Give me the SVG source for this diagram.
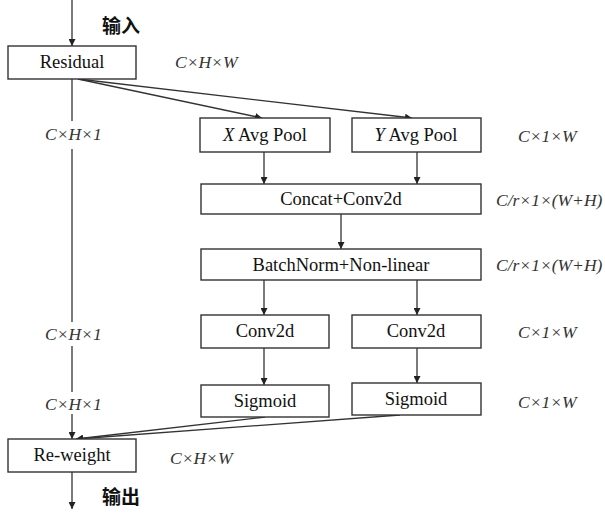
<svg xmlns="http://www.w3.org/2000/svg" width="605" height="513" viewBox="0 0 605 513">
<defs>
<marker id="ah" viewBox="0 0 10 10" refX="10" refY="5" markerWidth="7" markerHeight="7" markerUnits="userSpaceOnUse" orient="auto">
<path d="M0,0 L10,5 L0,10 z" fill="#222"/>
</marker>
<style>
.box{fill:#fff;stroke:#333;stroke-width:1.4}
.t{font-family:'Liberation Serif','Times New Roman',serif;font-size:18.5px;fill:#111;text-anchor:middle}
.d{font-family:'Liberation Serif','Times New Roman',serif;font-size:17.5px;font-style:italic;fill:#333}
.zh{font-family:'Noto Sans CJK SC',sans-serif;font-size:19px;font-weight:bold;fill:#111}
.c{stroke:#333;stroke-width:1.3;fill:none}
</style>
</defs>
<rect width="605" height="513" fill="#fff"/>
<g id="connectors">
<line class="c" x1="72" y1="0" x2="72" y2="46" marker-end="url(#ah)"/>
<line class="c" x1="72" y1="79" x2="72" y2="121"/>
<line class="c" x1="72" y1="149" x2="72" y2="322"/>
<line class="c" x1="72" y1="346" x2="72" y2="392"/>
<line class="c" x1="72" y1="414" x2="72" y2="439" marker-end="url(#ah)"/>
<line class="c" x1="78" y1="79" x2="262" y2="118" marker-end="url(#ah)"/>
<line class="c" x1="78" y1="79" x2="412" y2="118" marker-end="url(#ah)"/>
<line class="c" x1="264" y1="152" x2="264" y2="184" marker-end="url(#ah)"/>
<line class="c" x1="417" y1="152" x2="417" y2="184" marker-end="url(#ah)"/>
<line class="c" x1="341" y1="214" x2="341" y2="249" marker-end="url(#ah)"/>
<line class="c" x1="264" y1="280" x2="264" y2="315" marker-end="url(#ah)"/>
<line class="c" x1="417" y1="280" x2="417" y2="315" marker-end="url(#ah)"/>
<line class="c" x1="264" y1="348" x2="264" y2="385" marker-end="url(#ah)"/>
<line class="c" x1="417" y1="348" x2="417" y2="383" marker-end="url(#ah)"/>
<line class="c" x1="265" y1="417" x2="76" y2="439" marker-end="url(#ah)"/>
<line class="c" x1="400" y1="415" x2="76" y2="439" marker-end="url(#ah)"/>
<line class="c" x1="72" y1="472" x2="72" y2="509" marker-end="url(#ah)"/>
</g>
<g id="residual"><rect class="box" x="8" y="46" width="128" height="33"/><text class="t" x="72" y="68">Residual</text></g>
<g id="xpool"><rect class="box" x="200" y="118" width="130" height="34"/><text class="t" x="265" y="141"><tspan font-style="italic">X</tspan> Avg Pool</text></g>
<g id="ypool"><rect class="box" x="352" y="118" width="129" height="34"/><text class="t" x="416" y="141"><tspan font-style="italic">Y</tspan> Avg Pool</text></g>
<g id="concat"><rect class="box" x="201" y="184" width="280" height="30"/><text class="t" x="341" y="205">Concat+Conv2d</text></g>
<g id="bn"><rect class="box" x="201" y="249" width="280" height="31"/><text class="t" x="341" y="271">BatchNorm+Non-linear</text></g>
<g id="conv1"><rect class="box" x="201" y="315" width="128" height="33"/><text class="t" x="265" y="337">Conv2d</text></g>
<g id="conv2"><rect class="box" x="352" y="315" width="129" height="33"/><text class="t" x="416" y="337">Conv2d</text></g>
<g id="sig1"><rect class="box" x="201" y="385" width="128" height="32"/><text class="t" x="265" y="407">Sigmoid</text></g>
<g id="sig2"><rect class="box" x="352" y="383" width="129" height="32"/><text class="t" x="416" y="405">Sigmoid</text></g>
<g id="reweight"><rect class="box" x="8" y="439" width="128" height="33"/><text class="t" x="72" y="461">Re-weight</text></g>
<g id="labels">
<text class="d" x="175" y="68">C×H×W</text>
<text class="d" x="45" y="140">C×H×1</text>
<text class="d" x="518" y="142">C×1×W</text>
<text class="d" x="496" y="206">C/r×1×(W+H)</text>
<text class="d" x="496" y="271">C/r×1×(W+H)</text>
<text class="d" x="45" y="340">C×H×1</text>
<text class="d" x="518" y="338">C×1×W</text>
<text class="d" x="45" y="410">C×H×1</text>
<text class="d" x="518" y="408">C×1×W</text>
<text class="d" x="170" y="464">C×H×W</text>
<text class="zh" x="102" y="33">输入</text>
<text class="zh" x="102" y="504">输出</text>
</g>
</svg>
